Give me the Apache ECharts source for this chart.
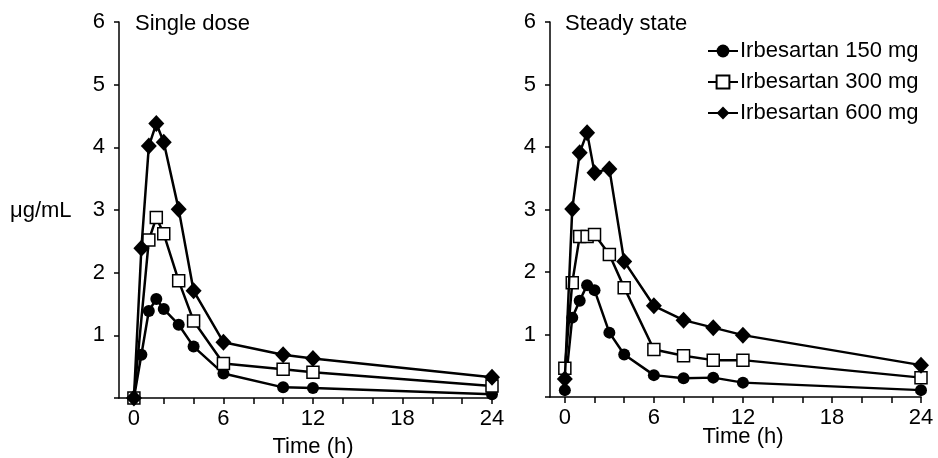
<!DOCTYPE html>
<html>
<head>
<meta charset="utf-8">
<script src="https://cdn.jsdelivr.net/npm/echarts@6/dist/echarts.min.js"></script>
<style>html,body{margin:0;padding:0;background:#fff}#c{width:938px;height:458px}</style>
</head>
<body>
<div id="c"></div>
<script>
// ---- data ----
var seriesNames = ['Irbesartan 150 mg', 'Irbesartan 300 mg', 'Irbesartan 600 mg'];
var xTicks = [0, 2, 4, 6, 8, 10, 12, 14, 16, 18, 20, 22, 24];
var xLabels = [0, 6, 12, 18, 24];
var yLabels = [1, 2, 3, 4, 5, 6];

// Single dose
var sdTime150 = [0, 0.5, 1, 1.5, 2, 3, 4, 6, 10, 12, 24];
var sdConc150 = [0, 0.69, 1.39, 1.58, 1.42, 1.17, 0.82, 0.39, 0.17, 0.16, 0.06];
var sdTime300 = [0, 1, 1.5, 2, 3, 4, 6, 10, 12, 24];
var sdConc300 = [0, 2.52, 2.88, 2.62, 1.87, 1.23, 0.55, 0.46, 0.41, 0.19];
var sdTime600 = [0, 0.5, 1, 1.5, 2, 3, 4, 6, 10, 12, 24];
var sdConc600 = [0, 2.39, 4.02, 4.38, 4.08, 3.01, 1.71, 0.89, 0.69, 0.63, 0.33];

// Steady state
var ssTime = [0, 0.5, 1, 1.5, 2, 3, 4, 6, 8, 10, 12, 24];
var ssConc150 = [0.11, 1.27, 1.54, 1.79, 1.71, 1.03, 0.68, 0.35, 0.30, 0.31, 0.23, 0.11];
var ssConc300 = [0.46, 1.83, 2.57, 2.57, 2.60, 2.28, 1.75, 0.76, 0.66, 0.59, 0.59, 0.31];
var ssConc600 = [0.29, 3.01, 3.91, 4.23, 3.59, 3.65, 2.17, 1.46, 1.23, 1.11, 0.99, 0.51];

function pairs(t, v) { return t.map(function (x, i) { return [x, v[i]]; }); }

var FONT = '"Liberation Sans", Arial, sans-serif';
var symbols = [
  { symbol: 'circle', symbolSize: 12, itemStyle: { color: '#000', borderColor: '#000', borderWidth: 0 } },
  { symbol: 'rect', symbolSize: 12, itemStyle: { color: '#fff', borderColor: '#000', borderWidth: 1.5 } },
  { symbol: 'diamond', symbolSize: [16, 17], itemStyle: { color: '#000', borderColor: '#000', borderWidth: 0 } }
];

function mkX(idx) {
  return {
    type: 'value', gridIndex: idx, min: -1, max: 24,
    axisLine: { show: true, onZero: false, lineStyle: { color: '#000', width: 1.5 } },
    axisTick: { show: true, length: 6, customValues: xTicks, lineStyle: { color: '#000', width: 1.5 } },
    axisLabel: { customValues: xLabels, color: '#000', fontSize: 22, fontFamily: FONT, margin: 10 },
    splitLine: { show: false }
  };
}
function mkY(idx) {
  return {
    type: 'value', gridIndex: idx, min: 0, max: 6, interval: 1,
    axisLine: { show: true, onZero: false, lineStyle: { color: '#000', width: 1.5 } },
    axisTick: { show: true, length: 5, lineStyle: { color: '#000', width: 1.5 } },
    axisLabel: {
      color: '#000', fontSize: 22, fontFamily: FONT, margin: 14,
      formatter: function (v) { return yLabels.indexOf(v) >= 0 ? String(v) : ''; }
    },
    splitLine: { show: false }
  };
}
function mkS(nameIdx, axisIdx, data) {
  var s = symbols[nameIdx];
  return {
    name: seriesNames[nameIdx], type: 'line', xAxisIndex: axisIdx, yAxisIndex: axisIdx,
    data: data, symbol: s.symbol, symbolSize: s.symbolSize, showAllSymbol: true,
    lineStyle: { color: '#000', width: 2.5 }, itemStyle: s.itemStyle,
    z: 3 + nameIdx, emphasis: { disabled: true }
  };
}

var chart = echarts.init(document.getElementById('c'), null, { renderer: 'canvas' });
chart.setOption({
  animation: false,
  backgroundColor: '#fff',
  textStyle: { fontFamily: FONT },
  grid: [
    { left: 119, top: 22, width: 373, height: 376 },
    { left: 550, top: 22, width: 371, height: 375 }
  ],
  xAxis: [mkX(0), mkX(1)],
  yAxis: [mkY(0), mkY(1)],
  legend: {
    orient: 'vertical', left: 702, top: 35, itemWidth: 30, itemHeight: 16, itemGap: 9,
    textStyle: { fontSize: 22, fontFamily: FONT, color: '#000', padding: [0, 0, 0, -3] },
    data: seriesNames
  },
  graphic: [
    { type: 'text', left: 135, top: 13, style: { text: 'Single dose', fontSize: 22, fontFamily: FONT, fill: '#000' } },
    { type: 'text', left: 565, top: 13, style: { text: 'Steady state', fontSize: 22, fontFamily: FONT, fill: '#000' } },
    { type: 'text', left: 10, top: 200, style: { text: 'μg/mL', fontSize: 22, fontFamily: FONT, fill: '#000' } },
    { type: 'text', x: 313, y: 436, style: { text: 'Time (h)', fontSize: 22, fontFamily: FONT, fill: '#000', align: 'center', verticalAlign: 'top' } },
    { type: 'text', x: 743, y: 426, style: { text: 'Time (h)', fontSize: 22, fontFamily: FONT, fill: '#000', align: 'center', verticalAlign: 'top' } }
  ],
  series: [
    mkS(0, 0, pairs(sdTime150, sdConc150)),
    mkS(1, 0, pairs(sdTime300, sdConc300)),
    mkS(2, 0, pairs(sdTime600, sdConc600)),
    mkS(0, 1, pairs(ssTime, ssConc150)),
    mkS(1, 1, pairs(ssTime, ssConc300)),
    mkS(2, 1, pairs(ssTime, ssConc600))
  ]
});
</script>
</body>
</html>
